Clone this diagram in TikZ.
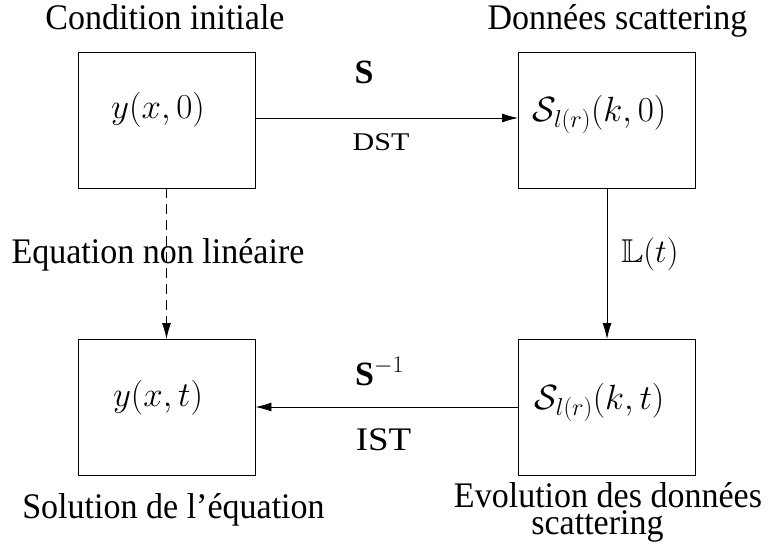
\RequirePackage{fix-cm}
\documentclass[tikz,border=0pt]{standalone}
\usepackage{amssymb}
\DeclareFontFamily{U}{msb}{}
\DeclareFontShape{U}{msb}{m}{n}{<-> msbm10}{}
\usepackage{graphicx}
\usepackage{fontspec}
\setmainfont{Liberation Serif}
\usetikzlibrary{arrows.meta}
\newcommand{\mylab}[1]{\fontsize{36}{26}\selectfont\scalebox{0.945}[1]{#1}}
\begin{document}
\begin{tikzpicture}[x=1pt,y=-1pt,
  box/.style={draw,line width=0.9pt,minimum width=177pt,minimum height=136pt,inner sep=0pt},
  lbl/.style={inner sep=0pt,anchor=base},
  mth/.style={inner sep=0pt,anchor=base,font=\fontsize{35}{40}\selectfont},
  conn/.style={line width=0.9pt,-{Latex[length=16pt,width=9pt]}}]
\useasboundingbox (0,0) rectangle (768,552);
\node[box] (tl) at (166.5,120) {};
\node[box] (tr) at (607,120) {};
\node[box] (bl) at (166.5,407.5) {};
\node[box] (br) at (607,407.5) {};
\node[mth] (m1) at (158,118) {$y(x,0)$};
\node[mth] (m2) at (599.5,121) {$\mathcal{S}_{l(r)}(k,0)$};
\node[mth] (m3) at (158,406) {$y(x,t)$};
\node[mth] (m4) at (599.5,409) {$\mathcal{S}_{l(r)}(k,t)$};
\coordinate (a1) at (0,118);
\coordinate (a2) at (0,407);
\draw[conn] (tl.east |- a1) -- (tr.west |- a1);
\draw[conn] (br.west |- a2) -- (bl.east |- a2);
\draw[conn] (tr) -- (br);
\draw[conn,dash pattern=on 10pt off 6pt] (tl) -- (bl);
\node[lbl] (c1) at (165,29) {\mylab{Condition initiale}};
\node[lbl] (c2) at (617.5,29) {\mylab{Données scattering}};
\node[lbl] (c3) at (158,263) {\mylab{Equation non linéaire}};
\node[lbl] (c4) at (173.5,518) {\mylab{Solution de l’équation}};
\node[lbl,align=center,font=\fontsize{36}{27}\selectfont] (c5) at (608,534) {\mylab{Evolution des données}\\\hspace*{-21pt}\mylab{scattering}};
\node[lbl,font=\fontsize{34}{36}\selectfont\bfseries] (s1) at (364,83) {S};
\node[lbl,font=\fontsize{30}{32}\selectfont] (dst) at (381,150) {\scalebox{1}[0.85]{DST}};
\node[lbl,anchor=base west,font=\fontsize{34}{36}\selectfont] (s2) at (355,385) {\textbf{S}$^{-1}$};
\node[lbl,font=\fontsize{37}{40}\selectfont] (ist) at (383.5,450) {\scalebox{1}[0.89]{IST}};
\node[mth,font=\fontsize{33}{36}\selectfont] (lt) at (650,262) {$\mathbb{L}(t)$};
\end{tikzpicture}
\end{document}
